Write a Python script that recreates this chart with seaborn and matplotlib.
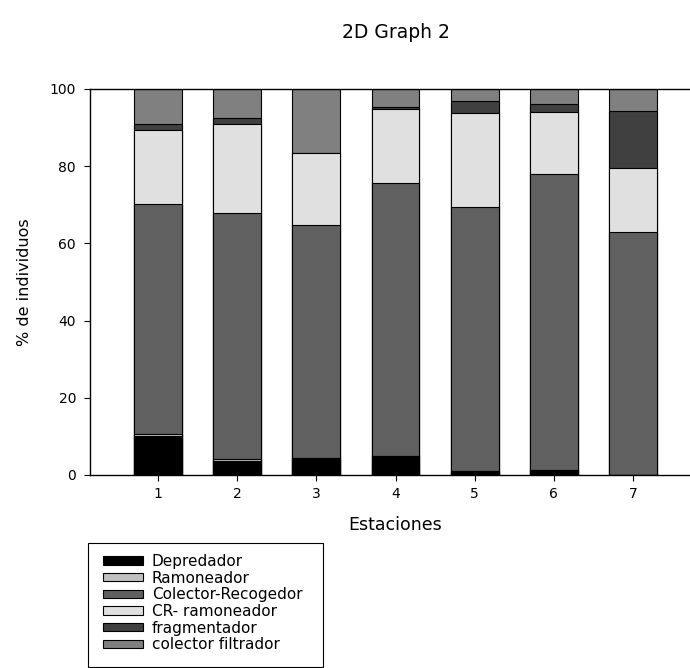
import matplotlib
matplotlib.use("Agg")
import matplotlib.pyplot as plt
from matplotlib.patches import Patch, Rectangle
import numpy as np
import pandas as pd
import seaborn as sns

# ---- data (percent of individuals per station) ----
estaciones = ["1", "2", "3", "4", "5", "6", "7"]
depredador = [10.1, 3.7, 4.3, 4.8, 1.0, 1.4, 0.0]
ramoneador = [0.4, 0.4, 0.0, 0.0, 0.0, 0.0, 0.0]
colector_recogedor = [59.7, 63.7, 60.4, 70.9, 68.5, 76.7, 62.9]
cr_ramoneador = [19.2, 23.1, 18.8, 19.0, 24.2, 15.9, 16.7]
fragmentador = [1.5, 1.7, 0.0, 0.6, 3.2, 2.1, 14.8]
colector_filtrador = [9.1, 7.4, 16.5, 4.7, 3.1, 3.9, 5.6]

series_names = ["Depredador", "Ramoneador", "Colector-Recogedor",
                "CR- ramoneador", "fragmentador", "colector filtrador"]
series_vals = [depredador, ramoneador, colector_recogedor,
               cr_ramoneador, fragmentador, colector_filtrador]
series_colors = ["#000000", "#c0c0c0", "#606060", "#e0e0e0", "#404040", "#808080"]

title = "2D Graph 2"
xlabel = "Estaciones"
ylabel = "% de individuos"
yticks = [0, 20, 40, 60, 80, 100]

sns.set_style("white")
plt.rcParams["font.family"] = ["DejaVu Sans"]
plt.rcParams["text.color"] = "black"
plt.rcParams["axes.labelcolor"] = "black"

df = pd.DataFrame({"Estacion": estaciones})
cum = np.zeros(len(estaciones))
for name, vals in zip(series_names, series_vals):
    cum = cum + np.array(vals)
    df[name] = cum.copy()

W, H = 690, 668
fig = plt.figure(figsize=(W / 100, H / 100), dpi=100)
ax = fig.add_axes([90 / W, 1 - 475 / H, 611 / W, 386 / H])

# draw cumulative bars from top layer down so that lower layers overlay
for name, col in reversed(list(zip(series_names, series_colors))):
    sns.barplot(data=df, x="Estacion", y=name, order=estaciones, color=col,
                saturation=1, width=0.606, edgecolor="black", linewidth=0.8,
                ax=ax, errorbar=None)

ax.set_xlim(-0.86, 6.86)
ax.set_ylim(0, 100)
ax.set_yticks(yticks)
ax.set_yticklabels([str(t) for t in yticks])

for s in ["left", "top", "bottom"]:
    ax.spines[s].set_visible(True)
    ax.spines[s].set_color("black")
    ax.spines[s].set_linewidth(1.0)
ax.spines["right"].set_visible(False)

ax.tick_params(axis="both", which="both", direction="out", length=4,
               width=0.8, color="black", labelsize=10, labelcolor="black")
ax.tick_params(axis="y", pad=6, left=True)
ax.tick_params(axis="x", pad=5, bottom=True)

ax.set_xlabel(xlabel, fontsize=12.5, color="black")
ax.set_ylabel(ylabel, fontsize=11.5, color="black")
ax.xaxis.set_label_coords(0.5, -0.105)
ax.yaxis.set_label_coords(-0.095, 0.5)

fig.text(395.5 / W, 1 - 38 / H, title, ha="center", va="baseline",
         fontsize=13.5, color="black")

# legend frame drawn explicitly (uneven padding like the original)
fig.add_artist(Rectangle((88 / W, 1 - 667 / H), (323 - 88) / W, (667 - 543) / H,
                         transform=fig.transFigure, facecolor="white",
                         edgecolor="black", linewidth=0.8, zorder=1))

handles = [Patch(facecolor=c, edgecolor="black", linewidth=0.8)
           for c in series_colors]
leg = fig.legend(handles, series_names, loc="upper left",
                 bbox_to_anchor=(103 / W, 1 - 554 / H),
                 bbox_transform=fig.transFigure, fontsize=11,
                 frameon=False, borderpad=0, labelspacing=0.11,
                 handlelength=2.6, handleheight=0.45, handletextpad=0.6,
                 borderaxespad=0, labelcolor="black")
leg.set_zorder(2)

fig.savefig("out.png", dpi=100)
